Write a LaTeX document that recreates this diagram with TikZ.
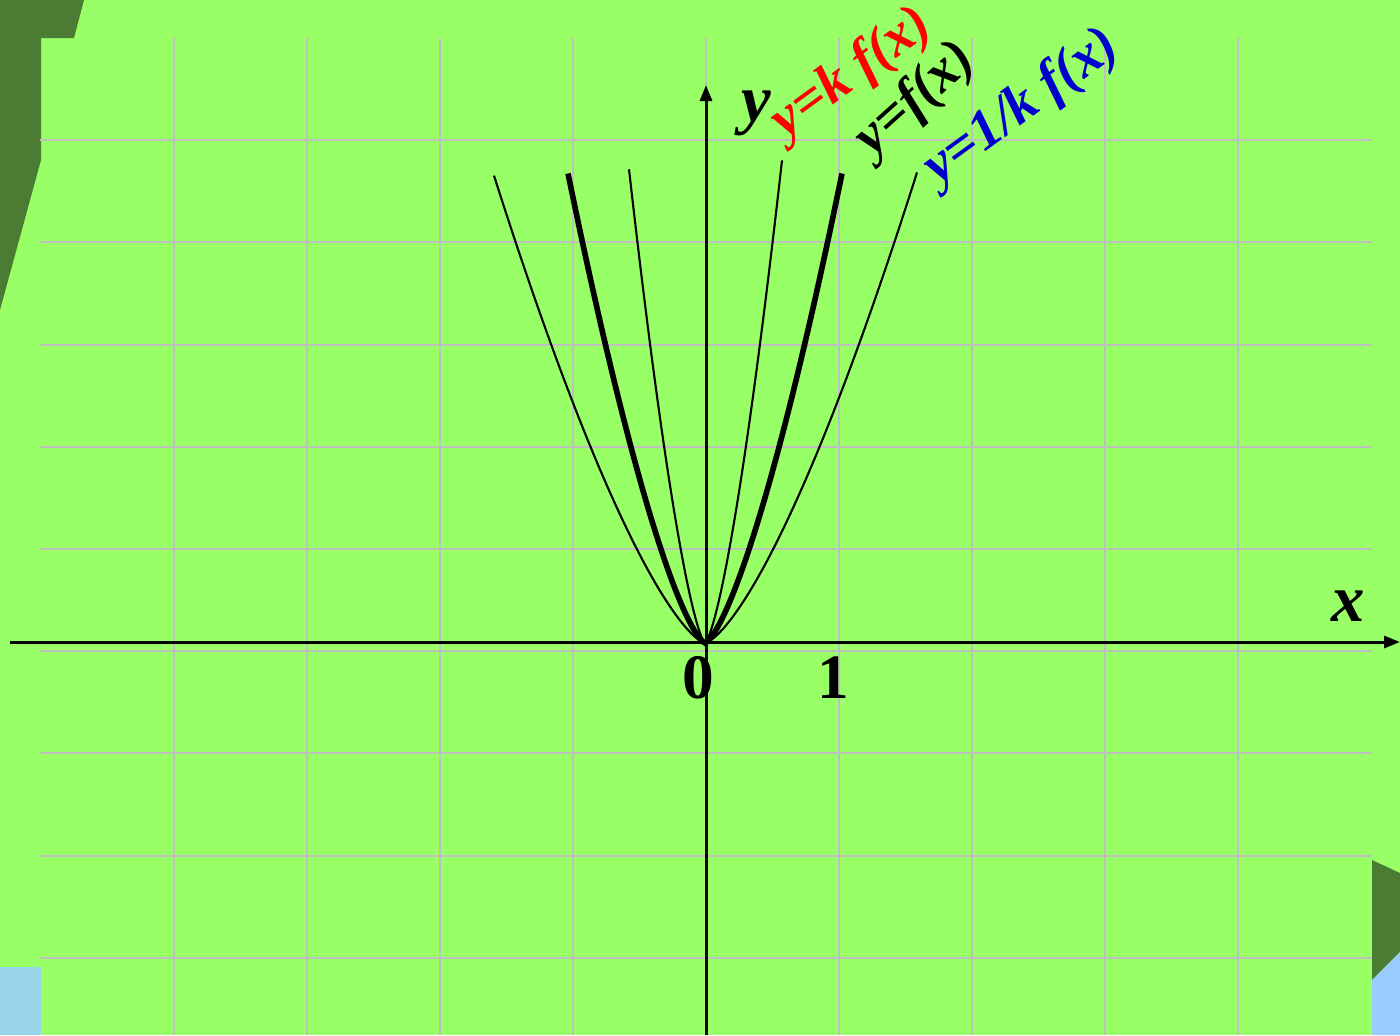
\documentclass[tikz,border=0pt]{standalone}
\usepackage{xcolor}
\usepackage{fontspec}
\setmainfont{Liberation Serif}
\usepackage{tikz}
\usetikzlibrary{arrows.meta}
\definecolor{bggreen}{HTML}{99FF66}
\definecolor{darkleaf}{HTML}{4C7C33}
\definecolor{paleblue}{HTML}{99D5E8}
\definecolor{skyblue}{HTML}{99CCFF}
\definecolor{gridgray}{HTML}{BFBFBF}
\definecolor{labelblue}{HTML}{0000CC}

\begin{document}
\begin{tikzpicture}[x=0.1mm,y=-0.1mm,
    gridline/.style={gridgray,line width=0.55pt},
    axis/.style={line width=0.85pt,-{Triangle[length=1.6mm,width=1.2mm]}},
    thin curve/.style={line width=0.6pt},
    thick curve/.style={line width=1.6pt},
    lbl/.style={font=\fontsize{16}{18}\selectfont\bfseries\itshape,inner sep=0pt},
    axlbl/.style={font=\fontsize{19}{21}\selectfont\bfseries\itshape,inner sep=0pt},
    num/.style={font=\fontsize{18}{20}\selectfont\bfseries,inner sep=0pt}]
      \useasboundingbox (0,0) rectangle (1400,1035);
      \fill[bggreen] (0,0) rectangle (1400,1035);
      \fill[darkleaf] (0,0) -- (84,0) -- (74,38) -- (41,38) -- (41,160) -- (0,310) -- cycle;
      \fill[paleblue] (0,967) rectangle (41,1035);
      \fill[darkleaf] (1372,860) -- (1400,873) -- (1400,952) -- (1372,980) -- cycle;
      \fill[skyblue] (1372,980) -- (1400,952) -- (1400,1035) -- (1372,1035) -- cycle;
      \foreach \gx in {1,...,9} {\draw[gridline] ({41+133*\gx},38) -- ({41+133*\gx},1035);}
      \foreach \gy in {1,...,9} {\draw[gridline] (40,{38+102.2*\gy}) -- (1372,{38+102.2*\gy});}
      \coordinate (xs) at (10,642);
      \coordinate (xe) at (1400,642);
      \coordinate (ys) at (706,1035);
      \coordinate (ye) at (706,85);
      \draw[axis] (xs) -- (xe);
      \draw[axis] (ys) -- (ye);
      \draw[thin curve] plot[domain=-211:212,samples=121] ({705+\x},{643-0.234*pow(abs(\x)+0.01,1.42)});
      \draw[thin curve] plot[domain=-76:77,samples=81] ({705+\x},{643-1.011*pow(abs(\x)+0.01,1.42)});
      \draw[thick curve] plot[domain=-137:137,samples=101] ({705+\x},{643-0.434*pow(abs(\x)+0.01,1.42)});
      \node[num] (zero) at (698,678) {0};
      \node[num] (one) at (833,678) {1};
      \node[axlbl] (xl) at (1348,606) {x};
      \node[axlbl] (yl) at (756,113) {y};
      \node[lbl,text=red,rotate=36] (kf) at (852,74) {y=k f(x)};
      \node[lbl,rotate=42] (ff) at (916,100) {y=f(x)};
      \node[lbl,text=labelblue,rotate=36] (invkf) at (1022,108) {y=1/k f(x)};
    \end{tikzpicture}
\end{document}
